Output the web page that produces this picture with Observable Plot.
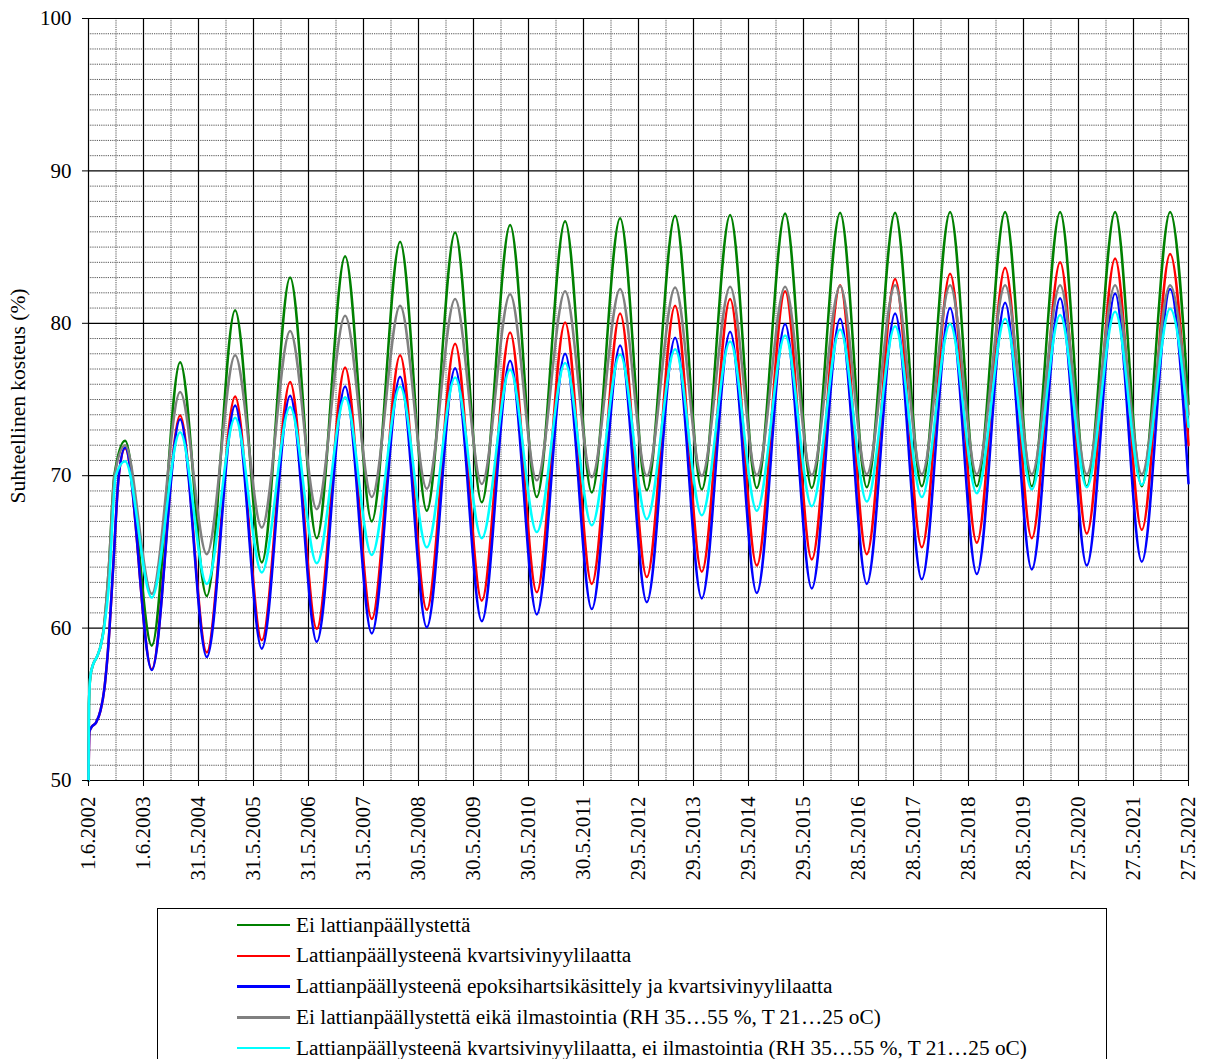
<!DOCTYPE html>
<html><head><meta charset="utf-8">
<script src="https://cdn.jsdelivr.net/npm/d3@7"></script>
<script src="https://cdn.jsdelivr.net/npm/@observablehq/plot@0.6"></script>
<style>
body{margin:0;background:#fff;font-family:"Liberation Serif","Times New Roman",serif;}
#wrap{position:relative;width:1207px;height:1059px;overflow:hidden;background:#fff;}
#chart{position:absolute;left:0;top:0;}
#chart svg, #chart svg text{font-family:"Liberation Serif","Times New Roman",serif !important;}
#legend{position:absolute;left:157px;top:908px;width:950px;height:200px;border:1px solid #000;box-sizing:border-box;background:#fff;}
.row{position:absolute;left:79px;height:26px;display:flex;align-items:center;font-size:21.3px;white-space:nowrap;color:#000;}
.row .sw{display:inline-block;width:53px;height:2.6px;margin-right:6px;}
</style></head><body><div id="wrap"><div id="chart"></div><div id="legend"></div></div>
<script>
// ---- tick labels (x axis) ----
const tickLabels = ["1.6.2002","1.6.2003","31.5.2004","31.5.2005","31.5.2006","31.5.2007","30.5.2008","30.5.2009","30.5.2010","30.5.2011","29.5.2012","29.5.2013","29.5.2014","29.5.2015","28.5.2016","28.5.2017","28.5.2018","28.5.2019","27.5.2020","27.5.2021","27.5.2022"];
const yTicks = [50, 60, 70, 80, 90, 100];

// ---- x positions (days since 1.6.2002) of the yearly maxima / minima and the end ----
const peakDays = [243,608,973,1338,1703,2068,2433,2798,3163,3528,3893,4258,4623,4988,5353,5718,6083,6448,6813,7178];
const troughDays = [420,785,1150,1515,1880,2245,2610,2975,3340,3705,4070,4435,4800,5165,5530,5895,6260,6625,6990];
const endDay = 7300;

// ---- series names / colours ----
const seriesNames = [
  "Ei lattianpäällystettä",
  "Lattianpäällysteenä kvartsivinyylilaatta",
  "Lattianpäällysteenä epoksihartsikäsittely ja kvartsivinyylilaatta",
  "Ei lattianpäällystettä eikä ilmastointia (RH 35…55 %, T 21…25 oC)",
  "Lattianpäällysteenä kvartsivinyylilaatta, ei ilmastointia (RH 35…55 %, T 21…25 oC)"
];
const seriesColors = ["#008000", "#ff0000", "#0000ff", "#808080", "#00ffff"];

// ---- start of each curve: [day, %] ----
const greenStart = [[0,50],[3,55.0],[12,56.8],[30,57.6],[60,58.2],[85,59.0],[105,60.3],[135,64.0],[171,70.0]];
const redStart   = [[0,50],[6,53.2],[20,53.5],[50,53.8],[80,54.6],[105,56.0],[129,58.5],[165,64.2],[201,70.0]];
const blueStart  = [[0,50],[6,53.2],[20,53.5],[50,53.8],[80,54.6],[105,56.0],[129,58.5],[165,64.2],[201,70.0]];
const grayStart  = [[0,50],[3,55.0],[12,56.8],[30,57.6],[60,58.2],[85,59.0],[105,60.3],[135,64.0],[173,70.0]];
const cyanStart  = [[0,50],[3,55.0],[12,56.8],[30,57.6],[60,58.2],[85,59.0],[105,60.1],[135,62.7],[181,70.0]];

// ---- yearly maxima ----
const greenPeaks = [72.3,77.45,80.85,83.0,84.4,85.35,85.95,86.45,86.7,86.9,87.05,87.1,87.2,87.25,87.25,87.3,87.3,87.3,87.3,87.3];
const redPeaks   = [71.8,73.95,75.2,76.15,77.1,77.9,78.65,79.4,80.05,80.65,81.15,81.6,82.1,82.5,82.9,83.25,83.65,84.0,84.25,84.55];
const bluePeaks  = [71.85,73.7,74.6,75.25,75.85,76.5,77.05,77.55,78.0,78.55,79.05,79.45,79.95,80.3,80.65,81.0,81.35,81.65,81.95,82.25];
const grayPeaks  = [72.0,75.5,77.9,79.5,80.5,81.15,81.6,81.9,82.1,82.25,82.35,82.4,82.4,82.45,82.5,82.5,82.5,82.5,82.5,82.5];
const cyanPeaks  = [70.95,72.85,73.8,74.5,75.15,75.85,76.45,76.95,77.4,77.95,78.3,78.8,79.2,79.6,79.8,79.95,80.3,80.55,80.75,80.95];

// ---- yearly minima ----
const greenTroughs = [58.85,62.1,64.3,65.9,67.0,67.7,68.25,68.6,68.9,69.05,69.1,69.2,69.2,69.25,69.3,69.3,69.3,69.3,69.3];
const redTroughs   = [57.3,58.4,59.2,59.95,60.6,61.2,61.8,62.35,62.9,63.35,63.7,64.1,64.5,64.85,65.3,65.6,65.9,66.2,66.45];
const blueTroughs  = [57.25,58.1,58.65,59.1,59.65,60.05,60.45,60.9,61.25,61.7,61.95,62.3,62.6,62.9,63.2,63.55,63.85,64.1,64.35];
const grayTroughs  = [62.25,64.85,66.6,67.8,68.6,69.15,69.45,69.7,69.9,70.0,70.0,70.05,70.05,70.1,70.1,70.1,70.1,70.1,70.1];
const cyanTroughs  = [62.0,62.9,63.65,64.25,64.8,65.3,65.9,66.3,66.75,67.15,67.4,67.7,68.0,68.3,68.6,68.85,69.1,69.25,69.4];

// ---- values on 27.5.2022 ----
const endValues = [74.7, 72.0, 69.5, 74.0, 73.2];

// ================= build =================
const parseDMY = s => { const [d, m, y] = s.split(".").map(Number); return new Date(Date.UTC(y, m - 1, d)); };
const t0 = parseDMY(tickLabels[0]);
const toDate = day => new Date(t0.getTime() + day * 864e5);
const tickDates = tickLabels.map(parseDMY);
const labelByTime = new Map(tickDates.map((d, i) => [d.getTime(), tickLabels[i]]));
const halfDates = tickDates.slice(1).map((d, i) => new Date((d.getTime() + tickDates[i].getTime()) / 2));

function buildSeries(start, peaks, troughs, endVal) {
  const pts = start.map(([day, v]) => ({date: toDate(day), value: v}));
  peaks.forEach((p, k) => {
    pts.push({date: toDate(peakDays[k]), value: p});
    if (k < troughs.length) pts.push({date: toDate(troughDays[k]), value: troughs[k]});
  });
  pts.push({date: toDate(endDay), value: endVal});
  return pts;
}
const allSeries = [
  buildSeries(greenStart, greenPeaks, greenTroughs, endValues[0]),
  buildSeries(redStart, redPeaks, redTroughs, endValues[1]),
  buildSeries(blueStart, bluePeaks, blueTroughs, endValues[2]),
  buildSeries(grayStart, grayPeaks, grayTroughs, endValues[3]),
  buildSeries(cyanStart, cyanPeaks, cyanTroughs, endValues[4])
];

const minorY = d3.range(51, 100).filter(v => v % 10 !== 0);
const serif = "'Liberation Serif','Times New Roman',serif";

const chart = Plot.plot({
  width: 1207,
  height: 900,
  marginLeft: 88,
  marginRight: 19,
  marginTop: 18,
  marginBottom: 120,
  style: {fontFamily: serif, fontSize: "21px", color: "#000", background: "#fff"},
  x: {type: "utc", domain: [tickDates[0], tickDates[tickDates.length - 1]]},
  y: {domain: [50, 100]},
  marks: [
    Plot.ruleY(minorY, {stroke: "#555", strokeWidth: 1, strokeDasharray: "1.2,1"}),
    Plot.ruleX(halfDates, {stroke: "#555", strokeWidth: 1, strokeDasharray: "1.2,1"}),
    Plot.ruleY(yTicks, {stroke: "#000", strokeWidth: 1.2}),
    Plot.ruleX(tickDates, {stroke: "#000", strokeWidth: 1.2}),
    ...allSeries.map((s, i) => Plot.line(s, {x: "date", y: "value", stroke: seriesColors[i], strokeWidth: 2.5, curve: "monotone-x"})),
    Plot.axisY({ticks: yTicks, tickSize: 6, tickPadding: 11, fontSize: 21, fontFamily: serif, label: null, stroke: "#000"}),
    Plot.axisX({ticks: tickDates, tickFormat: d => labelByTime.get(d.getTime()), tickRotate: -90, tickSize: 6, tickPadding: 10, fontSize: 21, fontFamily: serif, label: null, stroke: "#000"})
  ]
});
document.getElementById("chart").appendChild(chart);

// y-axis title
d3.select(chart).append("text")
  .attr("transform", "translate(18,396) rotate(-90)")
  .attr("text-anchor", "middle")
  .attr("dominant-baseline", "central")
  .attr("font-size", "21.5px")
  .attr("font-family", serif)
  .attr("fill", "#000")
  .text("Suhteellinen kosteus (%)");

// legend
const legend = document.getElementById("legend");
seriesNames.forEach((name, i) => {
  const row = document.createElement("div");
  row.className = "row";
  row.style.top = (3 + i * 30.8) + "px";
  const sw = document.createElement("span");
  sw.className = "sw";
  sw.style.background = seriesColors[i];
  const tx = document.createElement("span");
  tx.textContent = name;
  row.appendChild(sw);
  row.appendChild(tx);
  legend.appendChild(row);
});
</script></body></html>
